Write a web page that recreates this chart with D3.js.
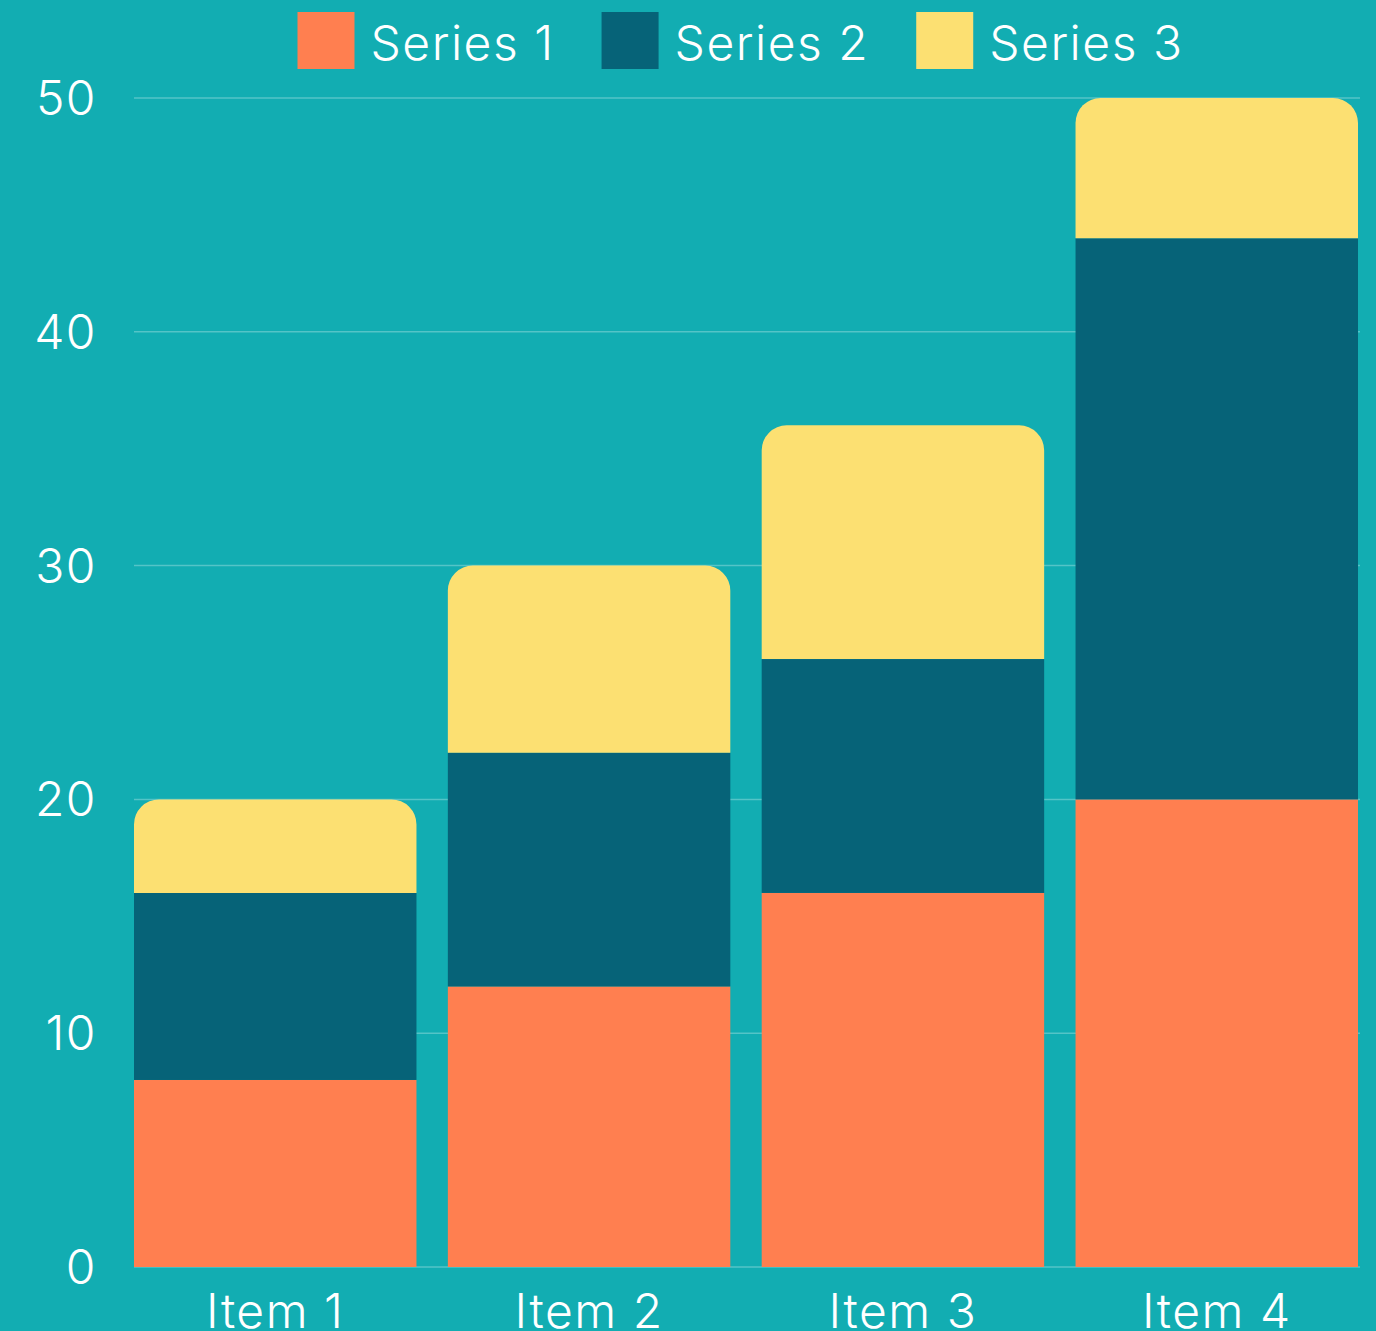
<!DOCTYPE html>
<html>
<head>
<meta charset="utf-8">
<script src="https://cdn.jsdelivr.net/npm/d3@7"></script>
<style>
html,body{margin:0;padding:0;background:#12ADB2;}
svg{display:block;}
text{font-family:Inter,"Noto Sans",sans-serif;font-weight:300;fill:#ffffff;letter-spacing:1.5px;}
</style>
</head>
<body>
<svg id="chart" width="1376" height="1331"></svg>
<script>
const categories = ["Item 1", "Item 2", "Item 3", "Item 4"];
const seriesNames = ["Series 1", "Series 2", "Series 3"];
const series1 = [8, 12, 16, 20];
const series2 = [8, 10, 10, 24];
const series3 = [4, 8, 10, 6];
const yTicks = [0, 10, 20, 30, 40, 50];
const colors = ["#FF7F50", "#066378", "#FCE072"];

const W = 1376, H = 1331;
const margin = {left: 134, right: 18, top: 98, bottom: 64};
const svg = d3.select("#chart");
svg.append("rect").attr("width", W).attr("height", H).attr("fill", "#12ADB2");

const x = d3.scaleBand().domain(categories)
  .range([margin.left, W - margin.right]).paddingInner(0.1).paddingOuter(0);
const y = d3.scaleLinear().domain([0, 50]).range([H - margin.bottom, margin.top]);

// gridlines
svg.append("g").selectAll("line").data(yTicks).join("line")
  .attr("x1", margin.left).attr("x2", W - margin.right + 2)
  .attr("y1", d => y(d)).attr("y2", d => y(d))
  .attr("stroke", "rgba(255,255,255,0.28)").attr("stroke-width", 1.5);

// y tick labels
svg.append("g").selectAll("text").data(yTicks).join("text")
  .attr("x", 97).attr("y", d => y(d) + 17)
  .attr("text-anchor", "end").attr("font-size", 48)
  .text(d => d);

const table = categories.map((c, i) => ({cat: c, s0: series1[i], s1: series2[i], s2: series3[i]}));
const stack = d3.stack().keys(["s0", "s1", "s2"]);
const layers = stack(table);
const r = 25;

layers.forEach((layer, li) => {
  const g = svg.append("g");
  layer.forEach(d => {
    const x0 = x(d.data.cat), bw = x.bandwidth();
    const yTop = y(d[1]), yBot = y(d[0]);
    if (li === layers.length - 1) {
      const p = d3.path();
      p.moveTo(x0, yBot);
      p.lineTo(x0, yTop + r);
      p.arcTo(x0, yTop, x0 + r, yTop, r);
      p.lineTo(x0 + bw - r, yTop);
      p.arcTo(x0 + bw, yTop, x0 + bw, yTop + r, r);
      p.lineTo(x0 + bw, yBot);
      p.closePath();
      g.append("path").attr("d", p.toString()).attr("fill", colors[li]);
    } else {
      g.append("rect").attr("x", x0).attr("y", yTop)
        .attr("width", bw).attr("height", yBot - yTop).attr("fill", colors[li]);
    }
  });
});

// x labels (cut at the bottom edge, as in the reference)
svg.append("g").selectAll("text").data(categories).join("text")
  .attr("x", d => x(d) + x.bandwidth() / 2).attr("y", 1328)
  .attr("text-anchor", "middle").attr("font-size", 48)
  .text(d => d);

// legend
const leg = svg.append("g");
const sw = 57, gapText = 16, gapItem = 47;
const items = seriesNames.map((n, i) => {
  const g = leg.append("g");
  g.append("rect").attr("width", sw).attr("height", sw).attr("y", 12).attr("fill", colors[i]);
  const t = g.append("text").attr("x", sw + gapText).attr("y", 60).attr("font-size", 48).text(n);
  return {g, w: sw + gapText + t.node().getComputedTextLength()};
});
const total = d3.sum(items, d => d.w) + gapItem * (items.length - 1);
let cx = 740.5 - total / 2;
items.forEach(it => { it.g.attr("transform", `translate(${cx},0)`); cx += it.w + gapItem; });
</script>
</body>
</html>
